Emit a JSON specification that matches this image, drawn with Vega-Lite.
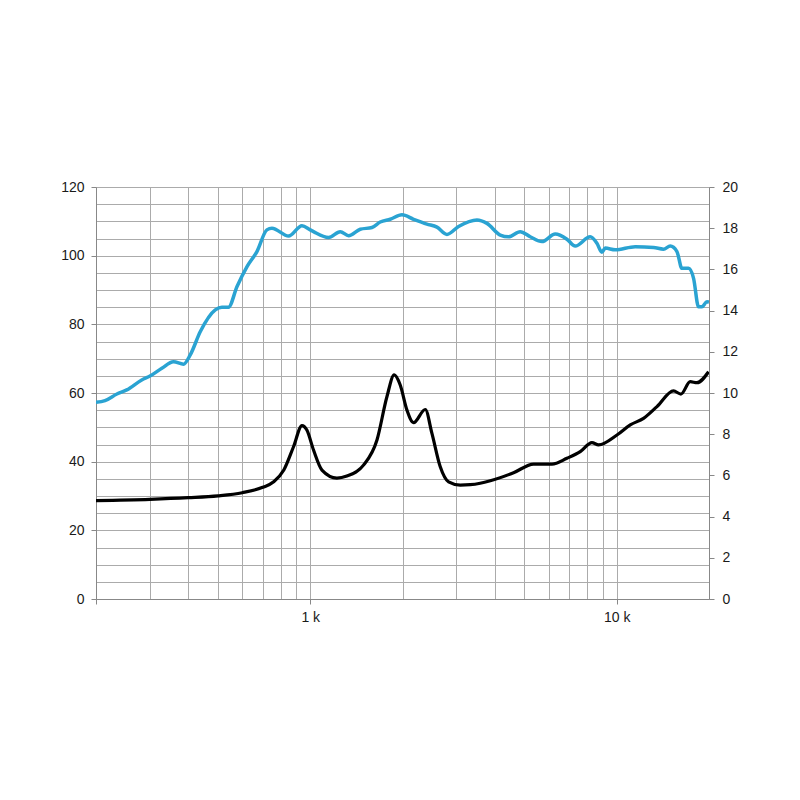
{
  "$schema": "https://vega.github.io/schema/vega-lite/v6.json",
  "width": 613,
  "height": 412,
  "autosize": "none",
  "padding": {"left": 96, "top": 187, "right": 91, "bottom": 201},
  "background": "white",
  "config": {
    "view": {"stroke": null},
    "axis": {"labelFont": "Liberation Sans", "labelFontSize": 14, "labelColor": "#1a1a1a", "title": null}
  },
  "datasets": {
    "spl": [
      {"f": 200, "v": 57.3}, {"f": 214, "v": 57.8}, {"f": 234, "v": 59.7}, {"f": 252, "v": 60.9},
      {"f": 282, "v": 63.8}, {"f": 301, "v": 65.0}, {"f": 328, "v": 67.2}, {"f": 358, "v": 69.1},
      {"f": 386, "v": 68.4}, {"f": 406, "v": 71.1}, {"f": 438, "v": 77.9}, {"f": 490, "v": 84.2},
      {"f": 515, "v": 85.0}, {"f": 541, "v": 85.0}, {"f": 577, "v": 91.0}, {"f": 622, "v": 96.8},
      {"f": 670, "v": 101.2}, {"f": 722, "v": 107.5}, {"f": 750, "v": 108.0}, {"f": 850, "v": 105.7},
      {"f": 940, "v": 108.7}, {"f": 1000, "v": 107.5}, {"f": 1025, "v": 107.0}, {"f": 1147, "v": 105.3},
      {"f": 1253, "v": 107.0}, {"f": 1334, "v": 105.8}, {"f": 1456, "v": 107.7}, {"f": 1590, "v": 108.2},
      {"f": 1692, "v": 109.8}, {"f": 1824, "v": 110.6}, {"f": 1992, "v": 111.9}, {"f": 2173, "v": 110.6},
      {"f": 2403, "v": 109.2}, {"f": 2591, "v": 108.3}, {"f": 2793, "v": 106.2}, {"f": 3047, "v": 108.5},
      {"f": 3499, "v": 110.4}, {"f": 3772, "v": 109.4}, {"f": 4168, "v": 106.0}, {"f": 4436, "v": 105.5},
      {"f": 4843, "v": 107.0}, {"f": 5222, "v": 105.5}, {"f": 5702, "v": 104.1}, {"f": 6300, "v": 106.3},
      {"f": 6878, "v": 104.8}, {"f": 7320, "v": 102.8}, {"f": 8196, "v": 105.5}, {"f": 8618, "v": 103.6},
      {"f": 8947, "v": 101.0}, {"f": 9173, "v": 102.2}, {"f": 9888, "v": 101.7}, {"f": 11490, "v": 102.6},
      {"f": 13190, "v": 102.4}, {"f": 14210, "v": 101.9}, {"f": 14950, "v": 102.8}, {"f": 15720, "v": 101.2},
      {"f": 16320, "v": 96.3}, {"f": 17150, "v": 96.3}, {"f": 17810, "v": 93.4}, {"f": 18490, "v": 85.1},
      {"f": 18970, "v": 85.1}, {"f": 19700, "v": 86.6}, {"f": 20000, "v": 86.5}
    ],
    "imp": [
      {"f": 200, "z": 4.78}, {"f": 300, "z": 4.84}, {"f": 400, "z": 4.92}, {"f": 500, "z": 5.01},
      {"f": 600, "z": 5.16}, {"f": 700, "z": 5.42}, {"f": 760, "z": 5.69}, {"f": 820, "z": 6.26},
      {"f": 882, "z": 7.39}, {"f": 940, "z": 8.42}, {"f": 975, "z": 8.2}, {"f": 1025, "z": 7.23},
      {"f": 1092, "z": 6.26}, {"f": 1222, "z": 5.87}, {"f": 1317, "z": 5.97}, {"f": 1492, "z": 6.5},
      {"f": 1651, "z": 7.72}, {"f": 1779, "z": 9.82}, {"f": 1879, "z": 10.88}, {"f": 1966, "z": 10.39},
      {"f": 2068, "z": 9.17}, {"f": 2173, "z": 8.56}, {"f": 2373, "z": 9.2}, {"f": 2495, "z": 8.04},
      {"f": 2656, "z": 6.42}, {"f": 2827, "z": 5.69}, {"f": 3087, "z": 5.53}, {"f": 3327, "z": 5.55},
      {"f": 3585, "z": 5.62}, {"f": 3868, "z": 5.74}, {"f": 4606, "z": 6.13}, {"f": 5354, "z": 6.55},
      {"f": 6147, "z": 6.55}, {"f": 6878, "z": 6.83}, {"f": 7602, "z": 7.15}, {"f": 8301, "z": 7.59},
      {"f": 8722, "z": 7.48}, {"f": 10016, "z": 7.96}, {"f": 11070, "z": 8.45}, {"f": 12230, "z": 8.77},
      {"f": 13530, "z": 9.34}, {"f": 15320, "z": 10.1}, {"f": 16200, "z": 9.95}, {"f": 17370, "z": 10.55},
      {"f": 18270, "z": 10.5}, {"f": 19930, "z": 11.03}
    ]
  },
  "layer": [
    {
      "data": {"name": "spl"},
      "mark": {"type": "line", "color": "#2aa3d2", "strokeWidth": 3.5, "interpolate": "monotone", "clip": true},
      "encoding": {
        "x": {
          "field": "f", "type": "quantitative",
          "scale": {"type": "log", "domain": [200, 20000], "nice": false},
          "axis": {
            "values": [200, 300, 400, 500, 600, 700, 800, 900, 1000, 2000, 3000, 4000, 5000, 6000, 7000, 8000, 9000, 10000, 20000],
            "grid": true, "gridColor": "#ababab", "gridOpacity": 1, "gridWidth": 1,
            "labelExpr": "datum.value == 1000 ? '1 k' : (datum.value == 10000 ? '10 k' : '')",
            "tickSize": 5, "tickColor": "#888888",
            "tickOpacity": {"condition": {"test": "datum.value == 200 || datum.value == 1000 || datum.value == 10000", "value": 1}, "value": 0},
            "domainColor": "#888888", "labelPadding": 6, "labelFlush": false, "labelOverlap": false
          }
        },
        "y": {
          "field": "v", "type": "quantitative",
          "scale": {"domain": [0, 120], "nice": false},
          "axis": {
            "orient": "left",
            "values": [0, 5, 10, 15, 20, 25, 30, 35, 40, 45, 50, 55, 60, 65, 70, 75, 80, 85, 90, 95, 100, 105, 110, 115, 120],
            "grid": true, "gridColor": "#ababab", "gridOpacity": 1, "gridWidth": 1,
            "labelExpr": "datum.value % 20 === 0 ? datum.label : ''",
            "tickSize": 5, "tickColor": "#888888",
            "tickOpacity": {"condition": {"test": "datum.value % 20 === 0", "value": 1}, "value": 0},
            "domainColor": "#888888", "labelPadding": 7, "labelOverlap": false
          }
        }
      }
    },
    {
      "data": {"name": "imp"},
      "mark": {"type": "line", "color": "#000000", "strokeWidth": 3.2, "interpolate": "monotone", "clip": true},
      "encoding": {
        "x": {
          "field": "f", "type": "quantitative",
          "scale": {"type": "log", "domain": [200, 20000], "nice": false},
          "axis": {
            "values": [200, 300, 400, 500, 600, 700, 800, 900, 1000, 2000, 3000, 4000, 5000, 6000, 7000, 8000, 9000, 10000, 20000],
            "grid": true, "gridColor": "#ababab", "gridOpacity": 1, "gridWidth": 1,
            "labelExpr": "datum.value == 1000 ? '1 k' : (datum.value == 10000 ? '10 k' : '')",
            "tickSize": 5, "tickColor": "#888888",
            "tickOpacity": {"condition": {"test": "datum.value == 200 || datum.value == 1000 || datum.value == 10000", "value": 1}, "value": 0},
            "domainColor": "#888888", "labelPadding": 6, "labelFlush": false, "labelOverlap": false
          }
        },
        "y": {
          "field": "z", "type": "quantitative",
          "scale": {"domain": [0, 20], "nice": false},
          "axis": {
            "orient": "right",
            "values": [0, 2, 4, 6, 8, 10, 12, 14, 16, 18, 20],
            "grid": false,
            "tickSize": 5, "tickColor": "#888888",
            "domainColor": "#888888", "labelPadding": 8, "labelOverlap": false
          }
        }
      }
    }
  ],
  "resolve": {"scale": {"y": "independent"}}
}
